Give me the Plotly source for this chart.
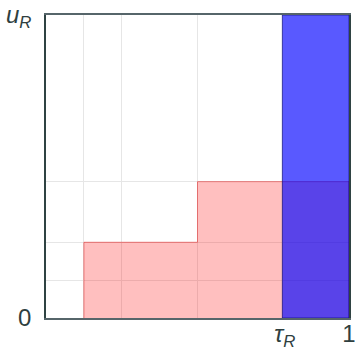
import plotly.graph_objects as go

# Data
step_edges = [0.125, 0.5, 1.0]      # x positions where steps start / end
step_heights = [0.25, 0.45]         # height of each step
tau_R = 0.78
u_R = 1.0
x_grid = [0.125, 0.25, 0.5, tau_R]
y_grid = [0.125, 0.25, 0.45]
x_tick_vals = [tau_R, 1.0]
x_tick_text = ["\u2009<i>τ</i><sub><i>R</i></sub>", "1"]
y_tick_vals = [0.0, u_R]
y_tick_text = ["0", "<i>u</i><sub><i>R</i></sub>"]

# red step polygon
rx, ry = [step_edges[0]], [0]
for i, h in enumerate(step_heights):
    rx += [step_edges[i], step_edges[i + 1]]
    ry += [h, h]
rx.append(step_edges[-1]); ry.append(0)

fig = go.Figure()
fig.add_trace(go.Scatter(x=rx, y=ry, mode="lines", fill="toself",
                         fillcolor="rgba(255,0,0,0.25)",
                         line=dict(color="rgba(220,0,0,0.45)", width=1),
                         hoverinfo="skip", showlegend=False))
fig.add_trace(go.Scatter(x=[tau_R, tau_R, 1.0, 1.0, tau_R], y=[0, u_R, u_R, 0, 0],
                         mode="lines", fill="toself",
                         fillcolor="rgba(0,0,255,0.65)",
                         line=dict(color="rgba(0,0,110,0.6)", width=1),
                         hoverinfo="skip", showlegend=False))

font = dict(family="Liberation Sans", size=24, color="#2f3f3f")

fig.update_xaxes(range=[0, 1], tickvals=x_tick_vals, ticktext=x_tick_text,
                 showgrid=False, zeroline=False, ticks="", automargin=False,
                 ticklabeloverflow="allow",
                 showline=True, linecolor="#56656a", linewidth=1.5, mirror=True,
                 tickfont=font, ticklabelstandoff=-7,
                 minor=dict(tickvals=x_grid, showgrid=True, gridcolor="#e6e6e6", gridwidth=1, ticks=""))
fig.update_yaxes(range=[0, 1], tickvals=y_tick_vals, ticktext=y_tick_text,
                 showgrid=False, zeroline=False, ticks="", automargin=False,
                 ticklabeloverflow="allow",
                 showline=True, linecolor="#2f4343", linewidth=1.5, mirror=True,
                 tickfont=font, ticklabelstandoff=8,
                 minor=dict(tickvals=y_grid, showgrid=True, gridcolor="#e6e6e6", gridwidth=1, ticks=""))

fig.update_layout(width=355, height=347, margin=dict(l=46, r=6, t=15, b=29),
                  plot_bgcolor="white", paper_bgcolor="white")
fig.write_html("out.html")
